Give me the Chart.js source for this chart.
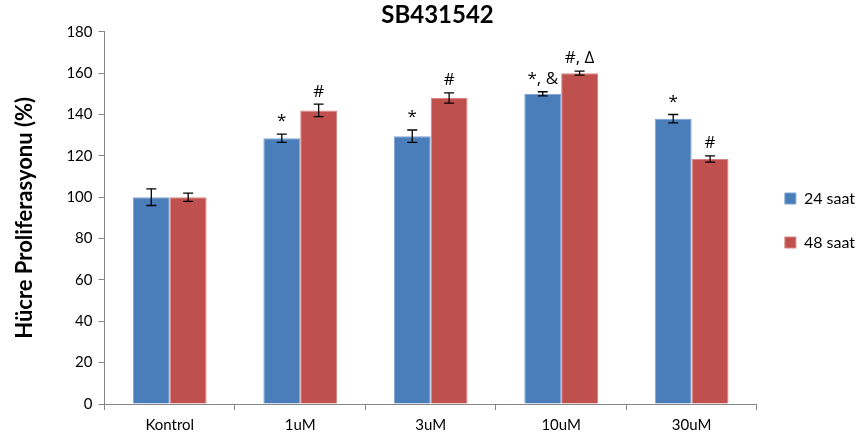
<!DOCTYPE html>
<html>
<head>
<meta charset="utf-8">
<script src="https://cdn.jsdelivr.net/npm/chart.js@4"></script>
<style>
  html, body { margin: 0; padding: 0; background: #fff; }
  #wrap { width: 867px; height: 442px; }
</style>
</head>
<body>
<div id="wrap"><canvas id="myChart"></canvas></div>
<script>
const labels = ['Kontrol', '1uM', '3uM', '10uM', '30uM'];
const saat24 = [100, 128.5, 129.5, 150, 138];
const saat48 = [100, 142, 148, 160, 118.5];
const err24 = [4, 2, 3, 1, 2];
const err48 = [2, 3, 2.5, 1, 1.5];
const marks24 = ['', '*', '*', '*, &', '*'];
const marks48 = ['', '#', '#', '#, \u0394', '#'];
const yTicks = [0, 20, 40, 60, 80, 100, 120, 140, 160, 180];

const errorBars = {
    id: 'errorBars',
    afterDatasetsDraw(chart) {
        const ctx = chart.ctx;
        const y = chart.scales.y;
        const errs = [err24, err48];
        const marks = [marks24, marks48];
        ctx.save();
        chart.data.datasets.forEach((ds, di) => {
            const meta = chart.getDatasetMeta(di);
            meta.data.forEach((bar, i) => {
                const v = ds.data[i];
                const e = errs[di][i];
                const top = y.getPixelForValue(v + e);
                const bot = y.getPixelForValue(v - e);
                ctx.strokeStyle = '#000';
                ctx.lineWidth = 1.3;
                ctx.beginPath();
                ctx.moveTo(bar.x, top);
                ctx.lineTo(bar.x, bot);
                ctx.moveTo(bar.x - 5, top);
                ctx.lineTo(bar.x + 5, top);
                ctx.moveTo(bar.x - 5, bot);
                ctx.lineTo(bar.x + 5, bot);
                ctx.stroke();
                const m = marks[di][i];
                if (m) {
                    ctx.fillStyle = '#000';
                    ctx.font = '17px "Open Sans"';
                    ctx.textAlign = 'center';
                    ctx.textBaseline = 'bottom';
                    ctx.fillText(m, bar.x, top - 4);
                }
            });
        });
        ctx.restore();
    }
};

const ctx = document.getElementById('myChart').getContext('2d');
const myChart = new Chart(ctx, {
    type: 'bar',
    data: {
        labels: labels,
        datasets: [{
            label: '24 saat',
            data: saat24,
            backgroundColor: '#4a7ebb',
            borderColor: '#7fa3d1',
            borderWidth: 1
        }, {
            label: '48 saat',
            data: saat48,
            backgroundColor: '#c0504d',
            borderColor: '#d98583',
            borderWidth: 1
        }]
    },
    options: {
        responsive: true,
        maintainAspectRatio: false,
        animation: false,
        layout: { padding: { top: 1, right: 2, left: 10, bottom: 2 } },
        categoryPercentage: 0.565,
        barPercentage: 1,
        scales: {
            x: {
                grid: { display: true, offset: true, drawOnChartArea: false, tickLength: 6, color: '#868686' },
                border: { color: '#868686' },
                ticks: { color: '#000', font: { family: 'Lato', size: 15 }, padding: 6 }
            },
            y: {
                min: 0,
                max: 180,
                afterBuildTicks: (s) => { s.ticks = yTicks.map(v => ({ value: v })); },
                grid: { display: true, drawOnChartArea: false, tickLength: 6, color: '#868686' },
                border: { color: '#868686' },
                ticks: { color: '#000', font: { family: 'Lato', size: 15 }, padding: 6 },
                title: {
                    display: true,
                    text: 'Hücre Proliferasyonu (%)',
                    color: '#000',
                    font: { family: 'Lato', size: 22, weight: 'bold' },
                    padding: { top: 2, bottom: 22 }
                }
            }
        },
        plugins: {
            title: {
                display: true,
                text: 'SB431542',
                color: '#000',
                font: { family: 'Lato', size: 24, weight: 'bold' },
                padding: { top: 0, bottom: 2 }
            },
            legend: {
                position: 'right',
                labels: {
                    color: '#000',
                    font: { family: 'Lato', size: 16 },
                    boxWidth: 11,
                    boxHeight: 11,
                    padding: 28
                }
            },
            tooltip: { enabled: false }
        }
    },
    plugins: [errorBars]
});
</script>
</body>
</html>
